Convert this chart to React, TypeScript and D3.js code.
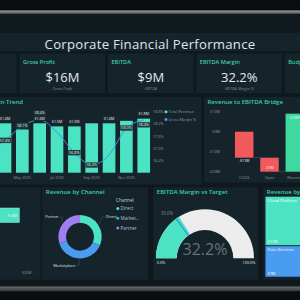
import React from 'react';
import * as d3 from 'd3';

// ---- data ----
const kpiTitles = ['Revenue', 'Gross Profit', 'EBITDA', 'EBITDA Margin', 'Budget Variance'];
const kpiValues = ['$29M', '$16M', '$9M', '32.2%', '$1.2M'];
const kpiSubtitles = ['Revenue', 'Gross Profit', 'EBITDA', 'EBITDA Margin %', 'Budget Variance'];

const months = ['Jan 2025', 'Feb 2025', 'Mar 2025', 'Apr 2025', 'May 2025', 'Jun 2025',
    'Jul 2025', 'Aug 2025', 'Sep 2025', 'Oct 2025', 'Nov 2025', 'Dec 2025'];
const revenue = [1.5, 1.5, 1.4, 1.6, 1.4, 1.6, 1.5, 1.5, 1.6, 1.6, 1.68, 1.75];
const grossMargin = [56.6, 56.5, 56.8, 57.4, 58.1, 58.4, 57.8, 56.8, 56.2, 56.7, 58.0, 58.4];
const marginTicks = [56.4, 57.0, 57.6, 58.2, 58.8];
const revenueLabelMonths = ['Apr 2025', 'May 2025', 'Jun 2025', 'Jul 2025', 'Aug 2025', 'Oct 2025', 'Dec 2025'];
const marginLabelMonths = ['Apr 2025', 'May 2025', 'Jun 2025', 'Aug 2025', 'Sep 2025', 'Nov 2025', 'Dec 2025'];
const marginLabelShift: Record<string, number> = { 'Jun 2025': -7, 'Dec 2025': 5 };

const bridgeCats = ['COGS', 'Opex', 'Revenue', 'EBITDA'];
const bridgeDeltas = [-13, -7, 29];
const bridgeTicks = [10, 0, -10, -20];
const bridgeLabelInside = [false, true, true];

const budgetValues = [16];
const budgetTicks = [20];

const channels = ['Direct', 'Marketplace', 'Partner'];
const channelRevenue = [9.1, 11.2, 8.7];

const marginActual = 32.2;
const marginTarget = 30;

// product revenue, grouped the way the treemap stacks them in columns
const productColumns = [['Cloud Platform', 'Data Services'], ['Consulting', 'Support']];
const products = ['Cloud Platform', 'Data Services', 'Consulting', 'Support'];
const productRevenue = [11, 7, 6, 5];

// ---- style ----
const FONT = "'Open Sans', 'DejaVu Sans', sans-serif";
const TEAL = '#4ce3c4';
const BLUE = '#4a9cf0';
const PURPLE = '#a07ef0';
const RED = '#f05a5c';
const GREEN = '#3fd9a0';
const PANEL = '#15242a';
const TITLE = '#3ccfae';
const AXIS = '#8d999d';

const money = (v: number) => (v < 0 ? '-' : '') + '$' + Math.abs(v) + 'M';

const Panel: React.FC<{ x: number; y: number; w: number; h: number; title?: string }> = ({ x, y, w, h, title }) => (
    <g>
        <rect x={x} y={y} width={w} height={h} fill={PANEL} />
        {title && (
            <text x={x + 3.5} y={y + 7} fontSize={6} fontWeight={600} fill={TITLE}>{title}</text>
        )}
    </g>
);

const Trend: React.FC = () => {
    const x = d3.scaleBand().domain(months).range([-55.7, 152.4]).paddingInner(0.27).paddingOuter(0.135);
    const yRev = d3.scaleLinear().domain([0, 1.6]).range([172.7, 123.3]);
    const yMargin = d3.scaleLinear().domain([56.4, 58.8]).range([161, 111.7]);
    const cx = (m: string) => (x(m) ?? 0) + x.bandwidth() / 2;
    const line = d3.line<number>()
        .x((_, i) => cx(months[i]))
        .y(d => yMargin(d))
        .curve(d3.curveMonotoneX);
    const fmtRev = (v: number) => '$' + d3.format('.1f')(v) + 'M';
    return (
        <g>
            {months.map((m, i) => (
                <rect key={m} x={x(m)} y={yRev(revenue[i])} width={x.bandwidth()}
                    height={yRev(0) - yRev(revenue[i])} fill={TEAL} />
            ))}
            <path d={line(grossMargin) ?? ''} fill="none" stroke="#4590e0" strokeWidth={1} />
            {months.map((m, i) => revenueLabelMonths.includes(m) && (
                <g key={'r' + m}>
                    <rect x={cx(m) - 6.2} y={yRev(revenue[i]) - 7.7} width={12.4} height={5.4} fill="#1a2a30" />
                    <text x={cx(m)} y={yRev(revenue[i]) - 3.6} fontSize={3.6} fill="#e6ecee" textAnchor="middle">{fmtRev(revenue[i])}</text>
                </g>
            ))}
            {months.map((m, i) => {
                if (!marginLabelMonths.includes(m)) return null;
                const yy = yMargin(grossMargin[i]) + (marginLabelShift[m] ?? 0);
                return (
                    <g key={'m' + m}>
                        <rect x={cx(m) - 6.2} y={yy - 2.8} width={12.4} height={5.4} fill="#1f3638" opacity={0.95} />
                        <text x={cx(m)} y={yy + 1.3} fontSize={3.6} fill="#e6ecee" textAnchor="middle">{grossMargin[i].toFixed(1) + '%'}</text>
                    </g>
                );
            })}
            {months.map((m, i) => i % 2 === 0 && (
                <text key={'x' + m} x={cx(m)} y={179} fontSize={3.8} fill={AXIS} textAnchor="middle">{m}</text>
            ))}
            {marginTicks.map(t => (
                <text key={t} x={153.5} y={yMargin(t) + 1.3} fontSize={3.6} fill={AXIS}>{t.toFixed(1) + '%'}</text>
            ))}
            <circle cx={166} cy={111.8} r={1.5} fill={TEAL} />
            <text x={168.5} y={113.2} fontSize={3.8} fill={AXIS}>Total Revenue</text>
            <circle cx={166} cy={119.5} r={1.5} fill={BLUE} />
            <text x={168.5} y={120.9} fontSize={3.8} fill={AXIS}>Gross Margin %</text>
        </g>
    );
};

const Bridge: React.FC = () => {
    const x = d3.scaleBand().domain(bridgeCats).range([231.55, 332.75]).paddingInner(0.27).paddingOuter(0.135);
    const y = d3.scaleLinear().domain([-20, 10]).range([171.7, 111.7]);
    let run = 0;
    const steps = bridgeDeltas.map(d => {
        const s = { start: run, end: run + d, d };
        run += d;
        return s;
    });
    return (
        <g>
            {bridgeTicks.map(t => (
                <text key={t} x={220} y={y(t) + 1.3} fontSize={3.8} fill={AXIS} textAnchor="end">{money(t)}</text>
            ))}
            {steps.map((s, i) => {
                const cat = bridgeCats[i];
                const x0 = x(cat) ?? 0;
                const top = y(Math.max(s.start, s.end));
                const bot = y(Math.min(s.start, s.end));
                const endY = y(s.end);
                const labelY = bridgeLabelInside[i]
                    ? endY + (s.d > 0 ? 4.8 : -3.2)
                    : endY + 4.6;
                const nextCat = bridgeCats[i + 1];
                return (
                    <g key={cat}>
                        <rect x={x0} y={top} width={x.bandwidth()} height={bot - top} fill={s.d < 0 ? RED : GREEN} />
                        {nextCat && (
                            <line x1={x0 + x.bandwidth()} x2={x(nextCat)} y1={endY} y2={endY} stroke="#4b565c" strokeWidth={0.6} />
                        )}
                        <text x={x0 + x.bandwidth() / 2} y={labelY} fontSize={3.6} fill="#f2f4f5" textAnchor="middle">{money(s.d)}</text>
                    </g>
                );
            })}
            <rect x={x('EBITDA')} y={y(run)} width={x.bandwidth()} height={y(0) - y(run)} fill={TEAL} />
            {bridgeCats.map(c => (
                <text key={c} x={(x(c) ?? 0) + x.bandwidth() / 2} y={178.5} fontSize={3.8} fill={AXIS} textAnchor="middle">{c}</text>
            ))}
        </g>
    );
};

const Budget: React.FC = () => {
    const x = d3.scaleLinear().domain([0, 20]).range([-10.3, 26.7]);
    return (
        <g>
            {budgetTicks.map(t => (
                <g key={t}>
                    <line x1={x(t)} x2={x(t)} y1={226} y2={269} stroke="#2b3a40" strokeWidth={0.5} strokeDasharray="1,1" />
                    <text x={x(t)} y={274} fontSize={3.6} fill={AXIS} textAnchor="middle">{money(t)}</text>
                </g>
            ))}
            {budgetValues.map(v => (
                <g key={v}>
                    <rect x={x(0)} y={208} width={x(v) - x(0)} height={14.5} fill={TEAL} stroke="#8ff2dd" strokeWidth={0.5} />
                    <text x={x(v) - 2} y={216.5} fontSize={3.8} fill="#f4f7f7" textAnchor="end">{money(v)}</text>
                </g>
            ))}
        </g>
    );
};

const Channel: React.FC = () => {
    const cx = 80, cy = 236.7, R = 21.7, r = 14;
    const colors = [TEAL, BLUE, PURPLE];
    const pie = d3.pie<number>().sort(null)(channelRevenue);
    const arc = d3.arc<d3.PieArcDatum<number>>().innerRadius(r).outerRadius(R);
    const labelOffsets = [[0, -5], [0, 2], [4, -4]];
    return (
        <g>
            <g transform={`translate(${cx},${cy})`}>
                {pie.map((p, i) => <path key={i} d={arc(p) ?? ''} fill={colors[i]} />)}
                {pie.map((p, i) => {
                    const a = (p.startAngle + p.endAngle) / 2;
                    const p1 = [Math.sin(a) * (R + 1), -Math.cos(a) * (R + 1)];
                    const p2 = [Math.sin(a) * (R + 5) + labelOffsets[i][0], -Math.cos(a) * (R + 5) + labelOffsets[i][1]];
                    const right = Math.sin(a) > 0.05;
                    const p3 = [p2[0] + (right ? 3 : -3), p2[1]];
                    return (
                        <g key={'l' + i}>
                            <polyline points={[p1, p2, p3].map(q => q.join(',')).join(' ')} fill="none" stroke="#56636a" strokeWidth={0.4} />
                            <text x={p3[0] + (right ? 0.8 : -0.8)} y={p3[1] + 1.3} fontSize={3.8} fill="#dfe5e7"
                                textAnchor={right ? 'start' : 'end'}>{channels[i]}</text>
                        </g>
                    );
                })}
            </g>
            <text x={116} y={202} fontSize={4.6} fill="#c9d2d5">Channel</text>
            {channels.map((c, i) => (
                <g key={c}>
                    <circle cx={117.8} cy={208.5 + i * 9.8} r={1.5} fill={colors[i]} />
                    <text x={120.6} y={210.1 + i * 9.8} fontSize={4.6} fill="#b9c4c8">{c.length > 7 ? c.slice(0, 6) + '…' : c}</text>
                </g>
            ))}
        </g>
    );
};

const Gauge: React.FC = () => {
    const cx = 205, cy = 258.3, R = 49, r = 28.3;
    const scale = d3.scaleLinear().domain([0, 100]).range([-Math.PI / 2, Math.PI / 2]);
    const arc = d3.arc();
    const t = scale(marginTarget);
    return (
        <g transform={`translate(${cx},${cy})`}>
            <path d={arc({ innerRadius: r, outerRadius: R, startAngle: scale(0), endAngle: scale(100) }) ?? ''} fill="#ececec" />
            <path d={arc({ innerRadius: r, outerRadius: R, startAngle: scale(0), endAngle: scale(marginActual) }) ?? ''} fill={TEAL} />
            <line x1={Math.sin(t) * r} y1={-Math.cos(t) * r} x2={Math.sin(t) * R} y2={-Math.cos(t) * R} stroke="#3aa3d8" strokeWidth={1.6} />
            <text x={Math.sin(t) * (R + 5)} y={-Math.cos(t) * (R + 5)} fontSize={4.4} fill="#7f8b90" textAnchor="end">{marginTarget.toFixed(1) + '%'}</text>
            <text x={0} y={-3.3} fontSize={16} fill="#66737a" textAnchor="middle">{marginActual.toFixed(1) + '%'}</text>
            <text x={-R + 5} y={6} fontSize={3.8} fill="#e8edef" textAnchor="middle">0.0%</text>
            <text x={R - 5} y={6} fontSize={3.8} fill="#e8edef" textAnchor="middle">100.0%</text>
        </g>
    );
};

const Products: React.FC = () => {
    const colors = [TEAL, BLUE, PURPLE, '#f2a65a'];
    type Node = { name?: string; value?: number; children?: Node[] };
    const tree: Node = {
        children: productColumns.map(col => ({
            children: col.map(p => ({ name: p, value: productRevenue[products.indexOf(p)] })),
        })),
    };
    const root = d3.hierarchy<Node>(tree).sum(d => d.value ?? 0);
    d3.treemap<Node>().tile(d3.treemapSliceDice).size([80, 80]).paddingInner(1)(root);
    return (
        <g transform="translate(265.5,196.7)">
            {(root.leaves() as d3.HierarchyRectangularNode<Node>[]).map(n => {
                const i = products.indexOf(n.data.name ?? '');
                return (
                    <g key={n.data.name}>
                        <rect x={n.x0} y={n.y0} width={n.x1 - n.x0} height={n.y1 - n.y0} fill={colors[i]} />
                        <text x={n.x0 + 2} y={n.y0 + 5.3} fontSize={4.2} fill="#ffffff">{n.data.name}</text>
                        <text x={n.x0 + 2} y={n.y1 - 2} fontSize={3.8} fill="#ffffff">{money(n.value ?? 0)}</text>
                    </g>
                );
            })}
        </g>
    );
};

const App: React.FC = () => {
    return (
        <svg width={300} height={300} style={{ position: 'absolute', left: 0, top: 0, display: 'block' }} fontFamily={FONT}>
            <defs>
                <linearGradient id="topLine" x1="0" x2="0" y1="0" y2="1">
                    <stop offset="0" stopColor="#a4a9ac" />
                    <stop offset="1" stopColor="#3b4043" />
                </linearGradient>
                <linearGradient id="botLine" x1="0" x2="0" y1="0" y2="1">
                    <stop offset="0" stopColor="#6c7073" />
                    <stop offset="1" stopColor="#2e3235" />
                </linearGradient>
            </defs>
            <rect width={300} height={300} fill="#0f191d" />
            <rect width={300} height={10.5} fill="#0a0d0f" />
            <rect y={10.5} width={300} height={3.5} fill="url(#topLine)" />
            <rect y={14} width={300} height={19} fill="#101a1e" />
            <rect y={33} width={300} height={18} fill="#15232a" />
            <text x={150} y={49} fontSize={13.2} letterSpacing={0.25} fill="#dfe7e9" textAnchor="middle">Corporate Financial Performance</text>

            {kpiTitles.map((t, i) => {
                const x = 19.5 + (i - 1) * 88.4;
                return (
                    <g key={t}>
                        <rect x={x} y={53.5} width={85.5} height={39.5} fill={PANEL} />
                        <text x={x + 3.5} y={63.6} fontSize={5.6} fontWeight={600} fill={TITLE}>{t}</text>
                        <text x={x + 43} y={82.4} fontSize={13} fill="#e3eaec" textAnchor="middle">{kpiValues[i]}</text>
                        <text x={x + 43} y={89.8} fontSize={3.8} fontStyle="italic" fill="#7d898e" textAnchor="middle">{kpiSubtitles[i]}</text>
                    </g>
                );
            })}

            <Panel x={-60} y={97} w={261.5} h={87.5} />
            <text x={23} y={104} fontSize={6} fontWeight={600} fill={TITLE} textAnchor="end">Revenue &amp; Margin Trend</text>
            <Trend />

            <Panel x={204} y={97} w={110} h={85.5} title="Revenue to EBITDA Bridge" />
            <Bridge />

            <Panel x={-60} y={187.3} w={100.5} h={92.5} />
            <Budget />

            <Panel x={42.3} y={187.3} w={105.7} h={92.5} title="Revenue by Channel" />
            <Channel />

            <Panel x={153.3} y={187.3} w={104.7} h={92.5} title="EBITDA Margin vs Target" />
            <Gauge />

            <Panel x={263.3} y={187.3} w={100} h={92.5} title="Revenue by Product" />
            <Products />

            <rect y={286.5} width={300} height={5} fill="url(#botLine)" />
            <rect y={291.5} width={300} height={8.5} fill="#0b0e10" />
        </svg>
    );
};

export default App;
